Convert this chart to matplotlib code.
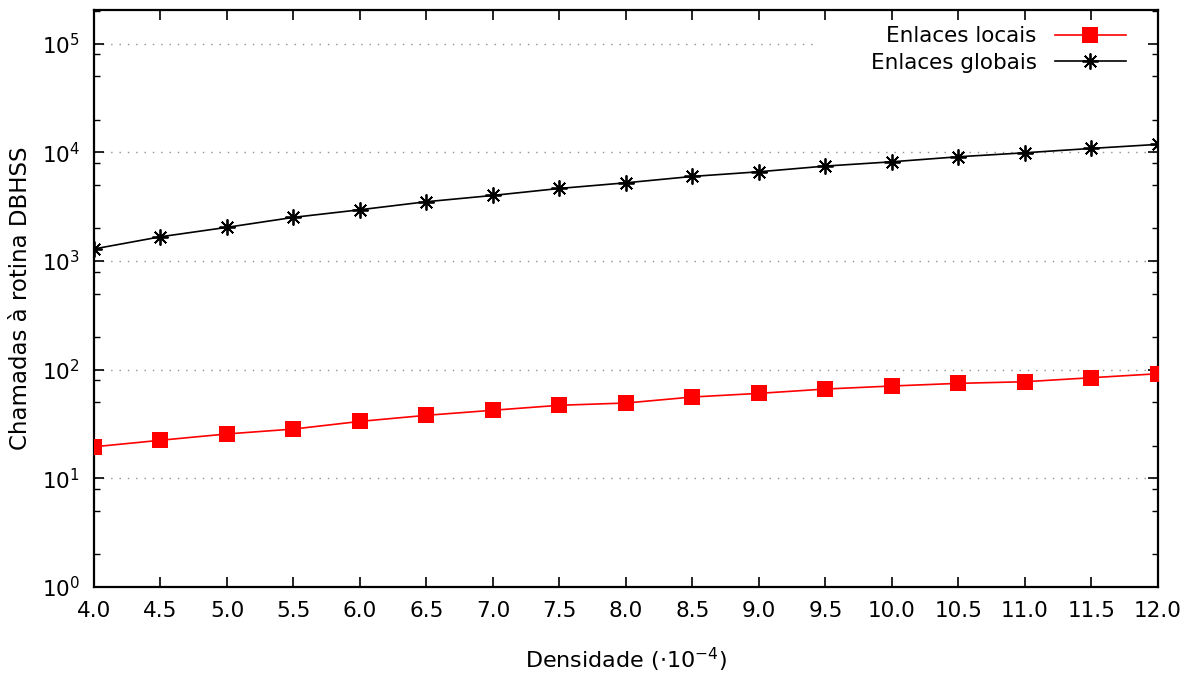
import numpy as np
import matplotlib
matplotlib.use("Agg")
import matplotlib.pyplot as plt
from matplotlib.ticker import LogLocator, FixedLocator, NullFormatter

plt.rcParams['font.family'] = ['DejaVu Sans']

# densidade (x 1e-4)
densidade = [4.0, 4.5, 5.0, 5.5, 6.0, 6.5, 7.0, 7.5, 8.0,
             8.5, 9.0, 9.5, 10.0, 10.5, 11.0, 11.5, 12.0]
# chamadas a rotina DBHSS
enlaces_locais = [19.5, 22.4, 25.6, 28.4, 33.4, 38.0, 42.3, 47.0, 49.3,
                  56.0, 60.5, 66.3, 70.7, 74.8, 77.4, 84.3, 91.7]
enlaces_globais = [1290, 1670, 2040, 2520, 2960, 3510, 4010, 4650, 5240,
                   6000, 6620, 7470, 8180, 9100, 9900, 10860, 11830]

x_ticks = [4.0, 4.5, 5.0, 5.5, 6.0, 6.5, 7.0, 7.5, 8.0,
           8.5, 9.0, 9.5, 10.0, 10.5, 11.0, 11.5, 12.0]

fig = plt.figure(figsize=(11.88, 6.75), dpi=100)
ax = fig.add_axes([0.0791, 0.1304, 0.8956, 0.8548])

ax.plot(densidade, enlaces_locais, color='red', lw=1.2, marker='s',
        markersize=11, markeredgewidth=0, label='Enlaces locais', zorder=3)
ax.plot(densidade, enlaces_globais, color='black', lw=1.2, marker=(8, 2, 0),
        markersize=11.5, markeredgewidth=1.3, label='Enlaces globais', zorder=3)

ax.set_yscale('log')
ax.set_xlim(4.0, 12.0)
ax.set_ylim(1, 2.04e5)

ax.set_xticks(x_ticks)
ax.set_xticklabels([f"{v:.1f}" for v in x_ticks])
ax.yaxis.set_major_locator(FixedLocator([1, 10, 100, 1e3, 1e4, 1e5]))
ax.yaxis.set_minor_locator(LogLocator(base=10, subs=[2, 5, 8]))
ax.yaxis.set_minor_formatter(NullFormatter())

grid_kw = dict(color='#909090', lw=1.0, ls=(0, (1, 5)), zorder=1)
for y in [10, 100, 1e3, 1e4]:
    ax.axhline(y, **grid_kw)
# top grid line is hidden behind the key box
ax.axhline(1e5, xmax=0.678, **grid_kw)

ax.tick_params(axis='both', which='major', direction='in', length=7, width=1.2,
               labelsize=15.5, top=True, right=True)
ax.tick_params(axis='y', which='minor', direction='in', length=4, width=1.0,
               right=True)
ax.tick_params(axis='x', which='major', pad=10)
ax.tick_params(axis='y', which='major', pad=10)
for s in ax.spines.values():
    s.set_linewidth(1.6)

ax.set_xlabel(r'Densidade ($\cdot$10$^{-4}$)', fontsize=16, labelpad=18)
ax.set_ylabel('Chamadas à rotina DBHSS', fontsize=16.5, labelpad=7)

leg = ax.legend(loc='upper right', bbox_to_anchor=(0.976, 0.983),
                markerfirst=False, fontsize=15.5,
                frameon=False, handlelength=3.3, borderaxespad=0.0,
                labelspacing=0.3, borderpad=0.3, handletextpad=0.85)
leg.set_zorder(5)
leg._legend_box.align = 'right'

fig.savefig('out.png', dpi=100)
